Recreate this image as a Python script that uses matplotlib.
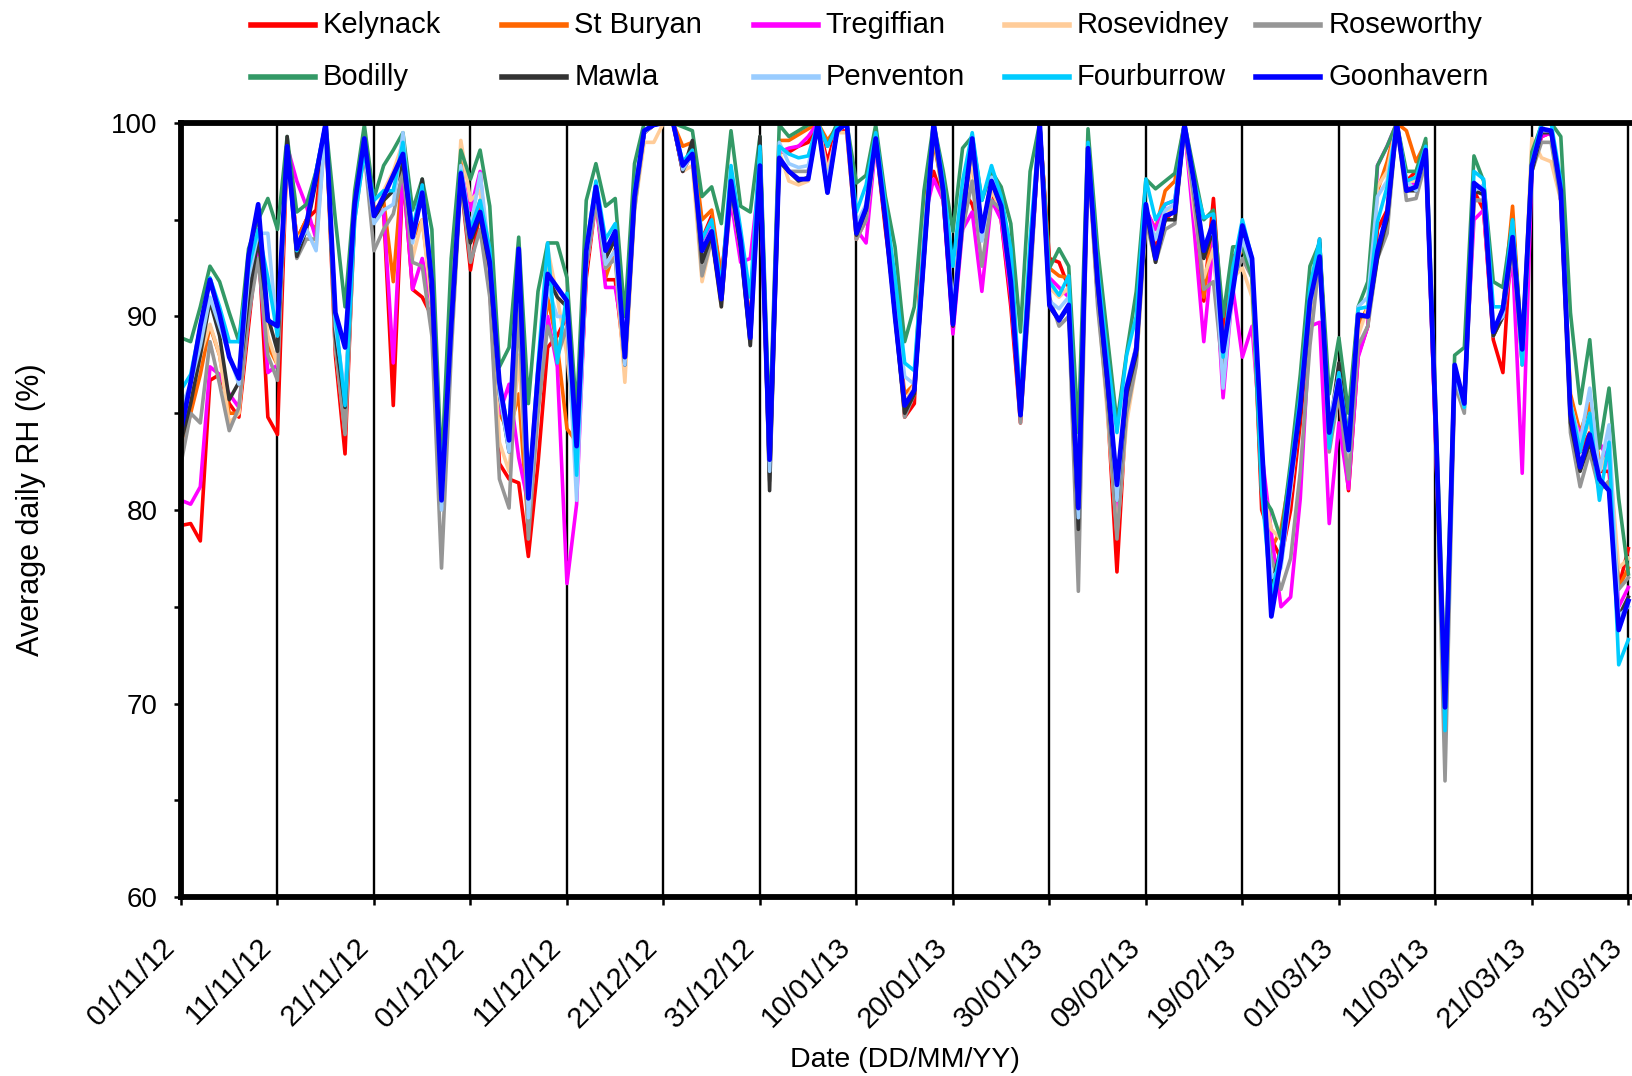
import numpy as np
import pandas as pd
import matplotlib
matplotlib.use("Agg")
import matplotlib.pyplot as plt
import matplotlib.dates as mdates
from matplotlib.lines import Line2D
from matplotlib.transforms import ScaledTranslation

plt.rcParams['font.family'] = ['Liberation Sans', 'DejaVu Sans']

# one value per day, 01/11/12 to 31/03/13
dates = pd.date_range("2012-11-01", periods=151, freq="D")

kelynack = [79.2, 79.3, 78.4, 86.7, 87.0, 85.5, 84.8, 89.5, 94.1, 84.8,
            83.9, 98.8, 94.0, 95.0, 95.5, 100, 88.0, 82.9, 95.5, 99.0,
            95.0, 95.5, 85.4, 97.5, 91.4, 91.0, 90.0, 80.8, 90.0, 97.0,
            92.4, 95.5, 91.5, 82.4, 81.6, 81.4, 77.6, 82.4, 88.4, 89.0,
            90.0, 82.0, 92.0, 96.0, 91.9, 91.9, 87.5, 95.8, 99.5, 99.9,
            100, 100, 97.5, 98.5, 94.0, 95.2, 92.0, 96.5, 94.0, 89.5,
            97.5, 82.0, 98.5, 98.5, 98.8, 99.0, 100, 98.0, 99.8, 99.5,
            94.0, 95.0, 99.0, 94.5, 90.5, 84.8, 85.5, 96.2, 97.5, 96.0,
            89.5, 96.5, 95.8, 94.0, 96.5, 95.0, 90.5, 84.5, 92.0, 99.8,
            93.0, 92.8, 91.5, 79.5, 98.5, 91.0, 85.5, 76.8, 85.5, 88.0,
            95.5, 93.5, 95.0, 95.5, 99.8, 95.5, 90.8, 96.1, 89.0, 93.1,
            93.5, 92.5, 80.0, 78.5, 77.5, 80.0, 84.5, 90.0, 93.0, 83.5,
            86.0, 81.0, 88.0, 89.5, 94.5, 95.5, 100, 97.0, 97.5, 98.5,
            84.0, 69.0, 87.0, 85.5, 96.5, 95.5, 88.8, 87.1, 95.0, 87.5,
            97.8, 99.3, 99.5, 96.0, 85.0, 83.0, 84.0, 82.0, 82.0, 76.0,
            78.0]

st_buryan = [83.0, 85.0, 87.0, 89.5, 88.0, 85.0, 85.0, 90.0, 93.5, 88.5,
             87.5, 98.8, 94.0, 95.0, 94.5, 100, 89.0, 84.5, 95.5, 99.0,
             95.5, 96.0, 91.8, 98.0, 94.0, 95.0, 91.0, 81.0, 89.5, 98.0,
             94.0, 96.0, 92.5, 85.0, 84.0, 86.0, 79.0, 85.5, 91.0, 88.5,
             84.2, 83.5, 93.0, 96.5, 92.0, 93.5, 87.5, 96.0, 99.5, 99.9,
             100, 100, 98.8, 99.0, 95.0, 95.5, 92.0, 96.8, 94.0, 89.5,
             98.0, 82.5, 99.1, 99.1, 99.4, 99.7, 100, 99.1, 99.8, 100,
             94.5, 95.0, 99.0, 95.0, 90.5, 86.0, 86.5, 95.0, 99.0, 96.5,
             90.0, 96.0, 98.0, 94.0, 97.0, 95.5, 91.5, 85.0, 92.5, 100,
             92.5, 92.1, 92.0, 80.5, 98.7, 92.0, 86.5, 79.5, 86.0, 88.5,
             95.5, 94.5, 96.5, 97.0, 100, 96.0, 91.0, 95.0, 88.0, 92.5,
             93.5, 92.8, 81.5, 78.0, 79.0, 82.0, 86.0, 90.5, 93.5, 84.0,
             86.5, 82.0, 89.5, 90.5, 96.5, 98.0, 100, 99.6, 98.0, 99.0,
             85.0, 69.5, 87.0, 85.5, 96.0, 96.0, 89.0, 90.5, 95.7, 88.0,
             98.0, 99.5, 99.5, 96.5, 86.0, 84.0, 85.5, 82.5, 83.0, 76.0,
             77.0]

tregiffian = [80.5, 80.3, 81.2, 87.4, 87.0, 86.0, 85.3, 90.0, 93.5, 87.1,
              87.5, 98.8, 97.0, 95.7, 94.0, 100, 90.0, 85.0, 95.5, 99.0,
              95.0, 95.5, 87.6, 97.5, 91.4, 93.0, 90.5, 80.8, 90.0, 97.5,
              95.5, 97.5, 91.5, 85.0, 86.5, 82.7, 80.3, 86.0, 90.0, 87.4,
              76.2, 80.3, 92.5, 96.0, 91.5, 91.5, 88.5, 96.0, 99.5, 99.9,
              100, 100, 97.5, 98.5, 93.5, 94.7, 91.0, 96.0, 92.8, 93.0,
              97.5, 82.5, 98.5, 98.7, 98.8, 99.3, 100, 97.5, 99.5, 100,
              94.5, 93.8, 99.0, 95.0, 90.5, 85.5, 86.0, 95.0, 97.1, 96.0,
              89.1, 94.5, 95.4, 91.3, 96.0, 95.0, 91.0, 85.0, 92.0, 99.8,
              92.0, 91.5, 91.0, 80.0, 98.5, 91.0, 86.0, 79.0, 86.0, 88.5,
              95.5, 94.5, 95.8, 96.0, 99.8, 94.5, 88.7, 94.0, 85.8, 91.5,
              87.9, 89.5, 83.0, 78.8, 75.0, 75.5, 80.6, 89.5, 89.7, 79.3,
              84.5, 81.1, 87.9, 89.5, 97.8, 98.8, 100, 96.5, 97.0, 98.5,
              84.0, 70.0, 86.5, 86.0, 95.0, 95.5, 89.0, 90.0, 93.0, 81.9,
              97.5, 99.3, 99.5, 96.0, 85.0, 84.0, 84.5, 83.5, 82.5, 75.0,
              76.0]

rosevidney = [83.5, 86.0, 88.0, 89.6, 88.0, 84.5, 85.0, 90.5, 93.0, 89.0,
              87.5, 98.8, 94.0, 94.5, 93.5, 100, 88.5, 84.0, 95.5, 99.0,
              95.0, 96.5, 97.5, 99.0, 93.0, 95.0, 90.5, 81.0, 89.0, 99.1,
              96.0, 96.5, 92.0, 83.5, 82.0, 88.0, 80.0, 86.0, 93.5, 91.0,
              88.0, 83.0, 92.5, 96.0, 92.5, 93.0, 86.6, 95.5, 99.0, 99.0,
              100, 100, 97.5, 97.8, 91.8, 94.0, 90.5, 96.5, 93.5, 89.0,
              98.0, 83.0, 98.5, 97.0, 96.8, 97.0, 100, 97.5, 99.5, 99.5,
              94.0, 95.0, 99.0, 95.0, 90.5, 85.5, 86.5, 94.5, 99.5, 96.5,
              90.0, 95.0, 98.0, 94.0, 96.5, 95.5, 92.0, 86.0, 92.5, 100,
              91.5, 91.0, 91.5, 80.5, 98.5, 91.0, 85.0, 78.8, 84.5, 87.5,
              95.0, 94.0, 95.5, 95.5, 99.8, 95.5, 92.0, 93.5, 87.5, 92.0,
              92.5, 91.0, 81.5, 79.0, 78.5, 81.0, 85.5, 89.5, 93.0, 84.0,
              86.5, 82.5, 89.0, 90.5, 96.7, 97.5, 100, 97.0, 97.0, 98.5,
              85.0, 69.5, 87.0, 85.5, 96.0, 96.0, 89.0, 90.0, 94.0, 88.0,
              99.2, 98.2, 98.0, 96.0, 85.5, 83.5, 84.5, 82.0, 83.0, 77.0,
              77.5]

roseworthy = [82.4, 85.0, 84.5, 88.7, 86.5, 84.1, 85.3, 90.0, 93.0, 88.0,
              86.7, 98.8, 93.0, 94.0, 94.0, 100, 88.5, 83.9, 95.0, 98.5,
              93.4, 94.5, 95.3, 97.5, 92.8, 92.6, 89.0, 77.0, 88.0, 97.0,
              92.8, 94.5, 91.0, 81.6, 80.1, 90.5, 78.5, 85.0, 89.5, 87.9,
              89.5, 81.5, 92.5, 96.0, 92.5, 93.0, 87.5, 95.5, 99.5, 99.9,
              100, 100, 97.5, 98.5, 92.1, 94.0, 91.0, 96.5, 93.5, 88.5,
              98.0, 81.5, 98.0, 97.5, 97.5, 97.5, 100, 97.0, 99.5, 100,
              94.0, 95.0, 99.0, 95.0, 90.0, 84.8, 86.0, 93.0, 99.5, 96.0,
              90.0, 94.5, 97.0, 92.6, 96.0, 95.5, 91.5, 84.5, 91.5, 100,
              91.0, 89.5, 90.0, 75.8, 98.5, 90.5, 85.5, 78.5, 85.0, 87.5,
              95.0, 92.8, 94.5, 94.8, 99.8, 96.0, 91.4, 91.8, 87.0, 92.0,
              93.0, 92.0, 81.0, 77.5, 75.9, 77.5, 82.0, 88.5, 93.0, 83.0,
              86.0, 81.6, 88.5, 89.5, 93.0, 94.3, 100, 96.0, 96.1, 98.0,
              84.5, 66.0, 86.5, 85.0, 96.0, 96.0, 89.0, 90.0, 93.5, 87.6,
              97.5, 99.0, 99.0, 96.0, 84.0, 81.2, 83.0, 81.0, 81.5, 75.9,
              76.5]

bodilly = [88.9, 88.7, 90.5, 92.6, 91.8, 90.2, 88.7, 93.5, 95.0, 96.1,
           94.5, 99.3, 95.4, 95.8, 97.5, 100, 95.0, 90.5, 96.5, 99.9,
           96.1, 97.8, 98.6, 99.5, 95.5, 97.1, 94.5, 82.0, 93.0, 98.6,
           97.1, 98.6, 95.7, 87.4, 88.4, 94.1, 85.5, 91.3, 93.8, 93.8,
           92.0, 85.0, 96.0, 97.9, 95.7, 96.1, 90.0, 97.9, 100, 100,
           100, 100, 99.8, 99.6, 96.2, 96.7, 94.8, 99.6, 95.7, 95.4,
           99.3, 84.0, 99.9, 99.3, 99.6, 99.9, 100, 98.8, 100, 100,
           96.9, 97.3, 99.9, 96.2, 93.6, 88.7, 90.5, 96.5, 100, 97.5,
           94.4, 98.7, 99.3, 96.0, 97.5, 96.7, 94.8, 89.2, 97.5, 100,
           92.5, 93.5, 92.6, 84.0, 99.7, 93.5, 89.0, 84.5, 88.1, 91.3,
           97.1, 96.6, 97.0, 97.4, 100, 97.5, 95.0, 95.5, 90.0, 93.6,
           93.6, 92.0, 80.8, 80.0, 78.5, 82.5, 87.0, 92.6, 93.8, 86.0,
           88.9, 85.0, 90.5, 91.8, 97.8, 98.8, 100, 97.5, 97.5, 99.2,
           86.0, 71.0, 88.0, 88.4, 98.3, 97.0, 91.8, 91.5, 95.0, 88.5,
           98.5, 99.9, 100, 99.3, 90.2, 85.5, 88.8, 83.2, 86.3, 80.6,
           76.7]

mawla = [83.5, 85.5, 88.0, 90.8, 89.0, 85.7, 86.6, 91.0, 94.0, 90.0,
         88.2, 99.3, 93.1, 94.5, 97.0, 100, 89.0, 85.3, 95.5, 98.5,
         95.0, 96.0, 96.5, 98.0, 94.0, 97.1, 91.0, 80.3, 89.0, 97.2,
         93.8, 95.2, 92.5, 86.0, 83.0, 93.0, 80.0, 86.5, 92.0, 91.0,
         90.5, 83.0, 93.0, 96.5, 93.0, 94.0, 87.5, 96.0, 99.5, 99.9,
         100, 100, 97.5, 99.1, 92.8, 94.2, 90.5, 96.8, 93.5, 88.5,
         99.3, 81.0, 98.0, 97.5, 97.0, 97.2, 100, 96.4, 99.6, 100,
         94.2, 95.5, 99.2, 95.0, 90.0, 85.0, 86.0, 93.0, 100, 96.3,
         89.5, 95.0, 99.0, 94.3, 97.0, 95.7, 91.5, 84.9, 92.5, 100,
         90.5, 89.8, 90.5, 79.0, 98.7, 91.6, 86.5, 80.5, 86.0, 88.0,
         95.5, 92.8, 95.0, 95.0, 99.9, 96.5, 93.0, 94.5, 88.0, 91.5,
         94.5, 92.5, 82.0, 76.0, 78.0, 81.5, 85.0, 90.5, 94.0, 84.0,
         87.6, 83.5, 90.0, 90.0, 93.0, 95.0, 100, 96.5, 96.5, 98.5,
         85.0, 69.5, 87.0, 85.5, 96.5, 96.3, 89.0, 90.0, 94.0, 88.0,
         97.5, 99.5, 99.5, 96.5, 84.5, 82.0, 83.5, 81.5, 81.0, 74.5,
         75.5]

penventon = [85.3, 86.5, 88.5, 91.0, 89.5, 88.0, 86.5, 92.0, 94.3, 94.3,
             89.0, 98.8, 93.5, 94.5, 93.4, 100, 89.5, 86.0, 95.5, 98.5,
             94.8, 95.5, 95.8, 99.5, 93.8, 96.5, 91.5, 80.0, 89.0, 97.8,
             94.5, 97.4, 93.0, 86.0, 83.0, 93.0, 79.6, 86.5, 91.5, 90.0,
             90.0, 80.5, 93.0, 96.5, 92.7, 93.4, 87.5, 96.0, 99.5, 99.9,
             100, 100, 97.6, 98.4, 93.5, 94.5, 91.0, 97.0, 94.0, 89.0,
             98.5, 82.0, 99.0, 97.9, 97.7, 97.8, 100, 97.0, 99.6, 100,
             94.8, 95.8, 99.2, 95.2, 91.0, 86.9, 86.5, 93.5, 100, 96.5,
             90.5, 95.5, 99.0, 93.9, 97.2, 95.8, 92.0, 85.0, 93.0, 100,
             90.8, 90.4, 91.0, 79.6, 98.8, 92.0, 87.0, 80.5, 86.5, 88.5,
             95.5, 94.0, 95.5, 95.8, 99.9, 96.5, 93.8, 94.5, 86.3, 91.5,
             94.0, 92.5, 82.5, 76.5, 77.0, 81.0, 85.5, 90.5, 93.5, 84.5,
             87.0, 83.0, 90.5, 91.0, 96.2, 97.0, 100, 97.0, 96.5, 98.5,
             85.0, 69.5, 87.0, 85.3, 96.5, 96.8, 89.5, 90.0, 94.9, 87.5,
             97.8, 99.6, 99.6, 96.5, 85.5, 83.5, 86.3, 82.0, 84.4, 74.5,
             75.0]

fourburrow = [86.2, 87.0, 89.5, 92.0, 90.5, 88.7, 88.7, 92.5, 94.5, 92.0,
              89.0, 98.8, 93.4, 94.8, 97.5, 100, 90.0, 85.4, 95.0, 98.5,
              96.0, 96.5, 96.5, 99.0, 94.5, 96.8, 92.0, 81.0, 89.5, 97.5,
              94.5, 96.0, 93.5, 86.5, 84.0, 93.5, 80.6, 87.5, 93.8, 87.6,
              91.2, 81.8, 93.5, 97.0, 94.0, 94.8, 88.0, 96.5, 99.6, 99.9,
              100, 100, 98.0, 98.6, 94.0, 95.0, 91.5, 97.8, 94.5, 91.0,
              98.8, 83.0, 98.8, 98.4, 98.2, 98.3, 100, 98.8, 99.8, 100,
              95.4, 96.8, 99.5, 95.8, 92.0, 87.6, 87.2, 94.0, 100, 97.0,
              92.6, 97.0, 99.5, 96.0, 97.8, 96.2, 93.5, 85.5, 94.0, 100,
              91.8, 91.1, 92.1, 80.5, 99.0, 92.5, 88.0, 84.0, 88.0, 90.0,
              97.1, 95.0, 95.8, 96.0, 100, 97.0, 95.1, 95.3, 87.9, 92.5,
              95.0, 93.0, 81.0, 75.5, 78.0, 82.0, 86.0, 91.5, 94.0, 83.2,
              87.1, 83.5, 90.4, 90.5, 94.9, 96.7, 100, 97.0, 97.2, 98.8,
              85.0, 68.6, 87.5, 85.3, 97.5, 97.1, 90.5, 90.5, 95.0, 87.5,
              98.0, 100, 100, 97.0, 85.5, 83.0, 85.0, 80.5, 83.5, 72.0,
              73.3]

goonhavern = [84.1, 86.6, 89.5, 91.9, 90.1, 87.9, 86.8, 93.1, 95.8, 89.8,
              89.5, 98.8, 93.5, 94.8, 97.3, 100, 90.2, 88.4, 95.8, 99.2,
              95.2, 96.2, 97.3, 98.4, 94.1, 96.4, 91.8, 80.5, 89.5, 97.4,
              94.1, 95.4, 92.8, 86.6, 83.6, 93.5, 80.6, 87.0, 92.2, 91.5,
              90.8, 83.3, 93.4, 96.7, 93.4, 94.4, 87.9, 96.2, 99.6, 99.9,
              100, 100, 97.8, 98.4, 93.4, 94.4, 90.9, 97.0, 93.9, 88.9,
              97.8, 82.6, 98.2, 97.5, 97.1, 97.1, 100, 96.4, 99.6, 100,
              94.3, 95.6, 99.2, 95.0, 90.0, 85.4, 86.2, 93.1, 100, 96.5,
              89.6, 95.2, 99.2, 94.4, 97.0, 95.7, 91.8, 84.9, 92.6, 100,
              90.6, 89.8, 90.6, 80.1, 98.7, 91.8, 86.8, 81.3, 86.3, 88.3,
              95.8, 93.0, 95.2, 95.4, 99.9, 96.9, 93.4, 94.9, 88.2, 91.3,
              94.7, 93.0, 83.5, 74.5, 77.5, 81.6, 85.4, 90.8, 93.1, 84.0,
              86.7, 83.1, 90.1, 90.0, 93.4, 95.3, 100, 96.5, 96.7, 98.6,
              85.0, 69.8, 87.5, 85.5, 96.9, 96.5, 89.2, 90.4, 94.1, 88.3,
              97.8, 99.7, 99.6, 96.5, 85.0, 82.2, 83.9, 81.6, 81.0, 73.8,
              75.3]

names = ["Kelynack", "St Buryan", "Tregiffian", "Rosevidney", "Roseworthy",
         "Bodilly", "Mawla", "Penventon", "Fourburrow", "Goonhavern"]
colours = ["#ff0000", "#ff6600", "#ff00ff", "#ffcc99", "#969696",
           "#339966", "#333333", "#99ccff", "#00ccff", "#0000ff"]
series = [kelynack, st_buryan, tregiffian, rosevidney, roseworthy,
          bodilly, mawla, penventon, fourburrow, goonhavern]

W, H = 1632, 1076
fig = plt.figure(figsize=(W / 100, H / 100), dpi=100)
ax = fig.add_axes([181 / W, 1 - 897 / H, 1457 / W, 774 / H])

for name, col, vals in zip(names, colours, series):
    lw = 3.4 if name == "Goonhavern" else 2.6
    ax.plot(dates, vals, color=col, lw=lw)

ax.set_ylim(60, 100)
ax.set_xlim(dates[0], dates[0] + pd.Timedelta(days=151))
ax.set_yticks([60, 70, 80, 90, 100])
ax.set_yticks([65, 75, 85, 95], minor=True)
ticks = pd.date_range("2012-11-01", "2013-03-31", freq="10D")
ax.set_xticks(ticks)
ax.xaxis.set_major_formatter(mdates.DateFormatter("%d/%m/%y"))
ax.grid(axis="x", color="black", lw=1.7)

for s in ax.spines.values():
    s.set_linewidth(4.2)

ax.tick_params(axis="y", which="both", direction="out", length=5, width=1.8,
               pad=12, labelsize=20)
ax.tick_params(axis="x", direction="out", length=6, width=1.8, pad=27,
               labelsize=21)
plt.setp(ax.get_xticklabels(), rotation=45, ha="right", va="center",
         rotation_mode="anchor")
shift = ScaledTranslation(-0.1, 0, fig.dpi_scale_trans)
for lab in ax.get_xticklabels():
    lab.set_transform(lab.get_transform() + shift)

ax.set_xlabel("Date (DD/MM/YY)", fontsize=20.5)
ax.xaxis.set_label_coords(0.497, -0.21)
ax.xaxis.label.set_va("center")
ax.set_ylabel("Average daily RH (%)", fontsize=22)
ax.yaxis.set_label_coords(-0.103, 0.5)
ax.yaxis.label.set_va("center")

# legend drawn by hand: 5 equal columns, 2 rows above the plot
for i, (name, col) in enumerate(zip(names, colours)):
    x0 = 251 + (i % 5) * 251.3
    y0 = 25 if i < 5 else 77
    fig.add_artist(Line2D([x0 / W, (x0 + 64) / W], [1 - y0 / H, 1 - y0 / H],
                          color=col, lw=4))
    fig.text((x0 + 72) / W, 1 - y0 / H, name, fontsize=21, va="center",
             ha="left")

fig.savefig("out.png", dpi=100)
